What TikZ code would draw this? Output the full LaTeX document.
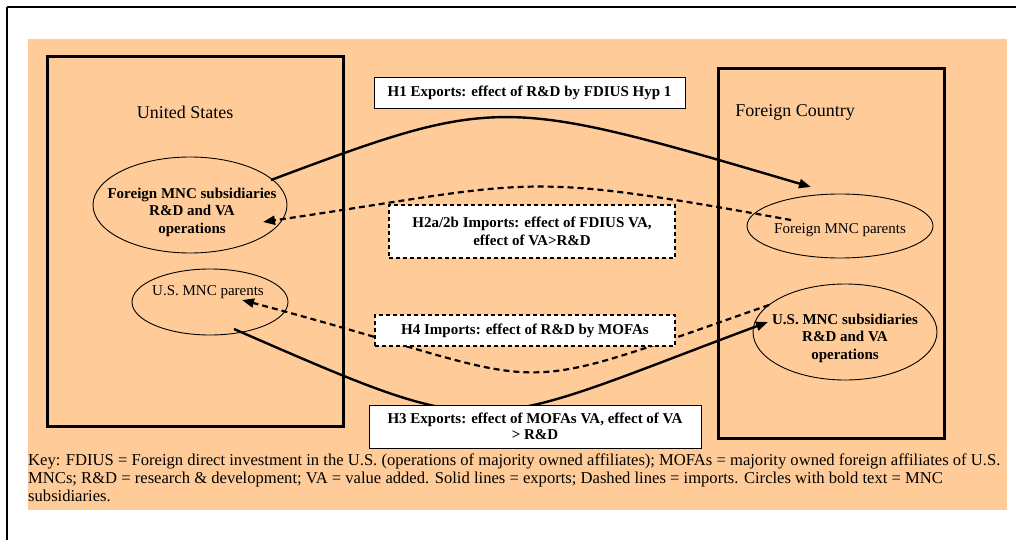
\documentclass[tikz,border=0pt]{standalone}
\usepackage{fontspec}
\setmainfont{Liberation Serif}
\usetikzlibrary{shapes.geometric,arrows.meta}
\definecolor{bgorange}{RGB}{255,204,153}
\begin{document}
\begin{tikzpicture}[x=1pt,y=-1pt,
  font=\fontsize{15}{17.5}\selectfont,
  bigbox/.style={draw,line width=3pt,inner sep=0pt},
  oval/.style={draw,ellipse,line width=0.9pt,inner sep=0pt},
  lbl/.style={inner sep=0pt,align=center},
  title/.style={inner sep=0pt,font=\fontsize{18}{20}\selectfont},
  blbl/.style={inner sep=0pt,align=center,font=\fontsize{15}{17.5}\selectfont\bfseries},
  hypsolid/.style={draw,fill=white,line width=0.9pt,inner sep=0pt,align=center,font=\fontsize{15}{16.5}\selectfont\bfseries},
  hypdash/.style={draw,fill=white,line width=1.6pt,dash pattern=on 4pt off 3pt,inner sep=0pt,align=center,font=\fontsize{15}{17.5}\selectfont\bfseries},
  tip/.style={-{Triangle[length=12pt,width=9pt]}},
  export/.style={tip,line width=2.4pt},
  import/.style={tip,line width=2.2pt,dash pattern=on 6pt off 4pt}]
\useasboundingbox (0,0) rectangle (1016,540);
% outer frame
\draw[line width=2.5pt] (7,7) -- (1016,7);
\draw[line width=1.6pt] (7,7) -- (7,540);
% background
\fill[bgorange] (28,39) rectangle (1007,510);
% country boxes
\node[bigbox,minimum width=296pt,minimum height=369pt] (us) at (195,241.5) {};
\node[bigbox,minimum width=226pt,minimum height=369pt] (fc) at (831,253.5) {};
\node[title] (ustext) at (185,112) {United States};
\node[title] (fctext) at (795,112) {Foreign Country};
% ellipses
\node[oval,minimum width=194pt,minimum height=96pt] (e1) at (190,205) {};
\node[oval,minimum width=156pt,minimum height=66pt] (e2) at (210,302) {};
\node[oval,minimum width=186pt,minimum height=64pt] (e3) at (840,226) {};
\node[oval,minimum width=184pt,minimum height=96pt] (e4) at (845,332) {};
\node[blbl] (e1text) at (192,212) {Foreign MNC subsidiaries\\R\&D and VA\\operations};
\node[lbl] (e2text) at (208,292) {U.S. MNC parents};
\node[lbl] (e3text) at (840,230) {Foreign MNC parents};
\node[blbl] (e4text) at (845,338) {U.S. MNC subsidiaries\\R\&D and VA\\operations};
% connectors
\draw[export] ([shift={(81,-25)}]e1.center) .. controls (498,95) and (502,96) .. ([shift={(-29,-39)}]e3.center);
\draw[import] ([shift={(-49,-6)}]e3.center) .. controls (513,170) and (541,181) .. ([shift={(73,17)}]e1.center);
\draw[import] ([shift={(-76,-27)}]e4.center) .. controls (488,403) and (570,387) .. ([shift={(32,-2)}]e2.center);
\draw[export] ([shift={(24,27)}]e2.center) .. controls (500,445) and (470,433) .. ([shift={(-77,-10)}]e4.center);
% hypothesis boxes
\node[hypsolid,minimum width=311pt,minimum height=31pt] (h1) at (529.5,92.5) {H1 Exports: effect of R\&D by FDIUS Hyp 1};
\node[hypdash,minimum width=286pt,minimum height=53pt] (h2) at (532,231.5) {H2a/2b Imports: effect of FDIUS VA,\\effect of VA>R\&D};
\node[hypdash,minimum width=300pt,minimum height=31pt] (h4) at (525,330.5) {H4 Imports: effect of R\&D by MOFAs};
\node[hypsolid,minimum width=332pt,minimum height=43pt] (h3) at (535,426.5) {H3 Exports: effect of MOFAs VA, effect of VA\\> R\&D};
% key
\node[anchor=north west,inner sep=0pt,align=left,font=\fontsize{16.6}{18}\selectfont] (key) at (28,454) {Key: FDIUS = Foreign direct investment in the U.S. (operations of majority owned affiliates); MOFAs = majority owned foreign affiliates of U.S.\\MNCs; R\&D = research \& development; VA = value added. Solid lines = exports; Dashed lines = imports. Circles with bold text = MNC\\subsidiaries.};
\end{tikzpicture}
\end{document}
